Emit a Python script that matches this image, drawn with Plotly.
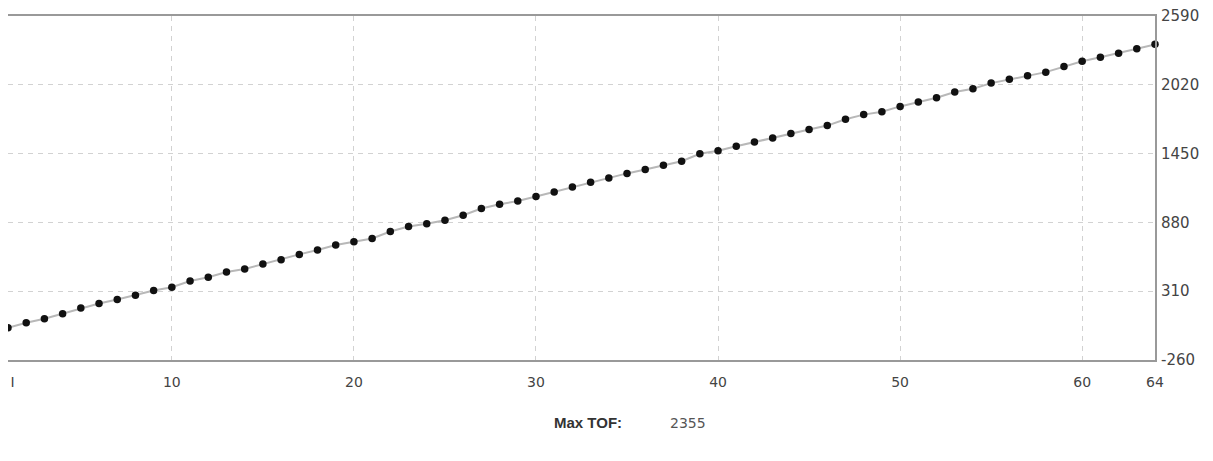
import plotly.graph_objects as go

# Channel index and time-of-flight values
channels = list(range(1, 65))
tof = [
    7, 49, 82, 123, 170, 208, 241, 277, 315, 343,
    395, 425, 469, 494, 535, 571, 615, 651, 692, 719,
    747, 805, 846, 868, 898, 939, 995, 1030, 1057, 1094,
    1132, 1173, 1212, 1247, 1286, 1319, 1354, 1387, 1448, 1473,
    1511, 1547, 1580, 1616, 1649, 1682, 1734, 1773, 1797, 1841,
    1877, 1913, 1960, 1987, 2034, 2067, 2094, 2125, 2171, 2215,
    2248, 2281, 2319, 2355,
]

x_ticks = [1, 10, 20, 30, 40, 50, 60, 64]
# leading nbsp keeps the first label from being cut at the left edge
x_ticktext = ["\u00a0\u00a0I", "10", "20", "30", "40", "50", "60", "64"]
y_ticks = [-260, 310, 880, 1450, 2020, 2590]
y_ticktext = ["-260", "310", "880", "1450", "2020", "2590"]
max_tof_label = "Max TOF:"
max_tof_value = str(max(tof))

textCol = '#444'
font_family = "DejaVu Sans, Verdana, sans-serif"

fig = go.Figure()
fig.add_trace(go.Scatter(
    x=channels, y=tof,
    mode='lines+markers',
    line=dict(color='#b8b8b8', width=2),
    marker=dict(color='#111', size=7.5),
    cliponaxis=False,
    showlegend=False,
))

# page body has an 8px margin, so the figure is sized to fit inside it
fig.update_layout(
    width=1197, height=445,
    margin=dict(l=0, r=50, t=8, b=93),
    plot_bgcolor='white',
    paper_bgcolor='white',
    font=dict(family=font_family, size=14, color=textCol),
    xaxis=dict(
        range=[1, 64],
        tickvals=x_ticks, ticktext=x_ticktext,
        showgrid=True, gridcolor='#d2d2d2', griddash='5px,5px', gridwidth=1,
        zeroline=False,
        showline=True, linecolor='#999', linewidth=2, mirror=True,
        ticks='', ticklabelstandoff=8,
        ticklabeloverflow='allow',
        automargin=False,
    ),
    yaxis=dict(
        range=[-260, 2590], side='right',
        tickvals=y_ticks, ticktext=y_ticktext,
        showgrid=True, gridcolor='#d2d2d2', griddash='5px,5px', gridwidth=1,
        zeroline=False,
        showline=True, linecolor='#999', linewidth=2, mirror=True,
        ticks='', ticklabelstandoff=1,
        ticklabeloverflow='allow',
        tickfont=dict(size=15),
        automargin=False,
    ),
    annotations=[
        dict(text="<b>" + max_tof_label + "</b>", xref='paper', yref='paper',
             x=0.5057, y=-0.183, xanchor='center', yanchor='middle',
             showarrow=False,
             font=dict(family="Liberation Sans, Arial, sans-serif", size=15, color='#333')),
        dict(text=max_tof_value, xref='paper', yref='paper',
             x=0.5754, y=-0.183, xanchor='left', yanchor='middle',
             showarrow=False, font=dict(size=14, color='#555')),
    ],
)

fig.write_html("out.html")
